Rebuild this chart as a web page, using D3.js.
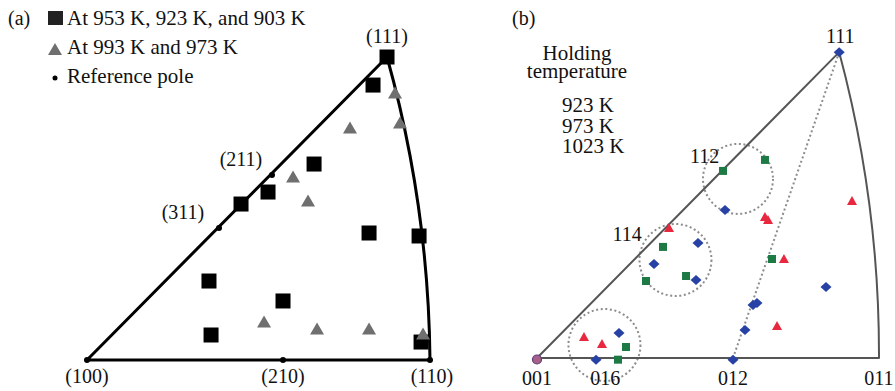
<!DOCTYPE html>
<html><head><meta charset="utf-8">
<script src="https://cdn.jsdelivr.net/npm/d3@7"></script>
<style>
body{margin:0;background:#fff}
svg{display:block}
text{font-family:"Liberation Serif","Times New Roman",serif;fill:#111}
</style>
</head><body>
<svg id="c" width="895" height="391"></svg>
<script>
// ---------- Panel (a) data (stereographic projection coordinates) ----------
const aPoleNames = ["(100)", "(210)", "(110)", "(311)", "(211)", "(111)"];
const aPoleX = [0, 0.2367, 0.4142, 0.1594, 0.2234, 0.3623];
const aPoleY = [0, 0, 0, 0.1594, 0.2234, 0.3660];
const aSquares = [
  [0.3623, 0.3660], [0.3454, 0.3321], [0.2742, 0.2367], [0.2186, 0.2029],
  [0.1860, 0.1884], [0.3406, 0.1534], [0.4010, 0.1498], [0.1473, 0.0954],
  [0.2367, 0.0713], [0.1498, 0.0302], [0.4034, 0.0217]
];
const aTriangles = [
  [0.3720, 0.3225], [0.3780, 0.2862], [0.3176, 0.2802], [0.2488, 0.2210],
  [0.2669, 0.1920], [0.2138, 0.0459], [0.2778, 0.0374], [0.3406, 0.0374],
  [0.4058, 0.0314]
];
const aLegend = ["At 953 K, 923 K, and 903 K", "At 993 K and 973 K", "Reference pole"];

// ---------- Panel (b) data ----------
const bPoleNames = ["001", "016", "012", "011", "114", "112", "111"];
const bPoleX = [0, 0.0828, 0.2374, 0.4142, 0.1213, 0.2247, 0.3660];
const bPoleY = [0, 0, 0, 0, 0.1213, 0.2247, 0.3670];
const bBlue = [
  [0.3660, 0.3670], [0.2277, 0.1777], [0.1950, 0.1381], [0.1417, 0.1128],
  [0.1926, 0.0936], [0.0993, 0.0300], [0.0715, -0.002], [0.2374, -0.002],
  [0.2519, 0.0336], [0.2616, 0.0636], [0.2664, 0.0660], [0.3500, 0.0852]
];
const bGreen = [
  [0.2253, 0.2245], [0.2761, 0.2377], [0.1526, 0.1333], [0.1320, 0.0924],
  [0.1805, 0.0984], [0.1078, 0.0132], [0.0981, -0.002], [0.2846, 0.1188]
];
const bRed = [
  [0.1599, 0.1561], [0.2761, 0.1693], [0.2798, 0.1657], [0.3815, 0.1885],
  [0.2991, 0.1188], [0.2907, 0.0384], [0.0569, 0.0252], [0.0787, 0.0168]
];
const bCircleX = [0.2434, 0.1677, 0.0817];
const bCircleY = [0.2149, 0.1176, 0.0156];
const bCircleR = [0.0424, 0.0436, 0.0436];
const bLegendTitle = ["Holding", "temperature"];
const bLegend = ["923 K", "973 K", "1023 K"];
const ARC_RADIUS = Math.SQRT2; // projected great circle radius

const svg = d3.select("#c");

// ---------- scales ----------
const xa = d3.scaleLinear().domain([0, 0.4142]).range([87, 430]);
const ya = d3.scaleLinear().domain([0, 0.366]).range([360, 57]);
const xb = d3.scaleLinear().domain([0, 0.4142]).range([537, 879]);
const yb = d3.scaleLinear().domain([0, 0.366]).range([358, 53]);

function tri(cx, cy, w, h) {
  return `M${cx},${cy - h * 0.55}L${cx + w / 2},${cy + h * 0.45}L${cx - w / 2},${cy + h * 0.45}Z`;
}
function diamond(cx, cy, w, h) {
  return `M${cx},${cy - h / 2}L${cx + w / 2},${cy}L${cx},${cy + h / 2}L${cx - w / 2},${cy}Z`;
}

// ================= Panel (a) =================
const ga = svg.append("g");
const p100 = [xa(aPoleX[0]), ya(aPoleY[0])];
const p110 = [xa(aPoleX[2]), ya(aPoleY[2])];
const p111 = [xa(aPoleX[5]), ya(aPoleY[5])];
const ra = xa(ARC_RADIUS) - xa(0);
ga.append("path")
  .attr("d", `M${p100[0]},${p100[1]}L${p111[0]},${p111[1]}A${ra},${ra} 0 0 1 ${p110[0]},${p110[1]}Z`)
  .attr("fill", "none").attr("stroke", "#000").attr("stroke-width", 3).attr("stroke-linejoin", "round");

// reference poles
ga.selectAll("circle.pole").data(aPoleNames).join("circle")
  .attr("cx", (d, i) => xa(aPoleX[i])).attr("cy", (d, i) => ya(aPoleY[i]))
  .attr("r", 3).attr("fill", "#000");

// markers
ga.selectAll("rect.sq").data(aSquares).join("rect")
  .attr("x", d => xa(d[0]) - 7.5).attr("y", d => ya(d[1]) - 7.5)
  .attr("width", 15).attr("height", 15).attr("fill", "#000");
ga.selectAll("path.tr").data(aTriangles).join("path")
  .attr("d", d => tri(xa(d[0]), ya(d[1]), 14, 12)).attr("fill", "#6f6f6f");

// pole labels
const aLabOff = {"(100)": [0, 23], "(210)": [0, 23], "(110)": [2, 23], "(311)": [-36, -9], "(211)": [-31, -9], "(111)": [0, -14]};
ga.selectAll("text.pl").data(aPoleNames).join("text")
  .attr("x", (d, i) => xa(aPoleX[i]) + aLabOff[d][0])
  .attr("y", (d, i) => ya(aPoleY[i]) + aLabOff[d][1])
  .attr("text-anchor", "middle").attr("font-size", 20).text(d => d);

// panel label + legend
svg.append("text").attr("x", 8).attr("y", 25).attr("font-size", 20).text("(a)");
svg.append("rect").attr("x", 48).attr("y", 11).attr("width", 15).attr("height", 14).attr("fill", "#222");
svg.append("path").attr("d", tri(55, 49.5, 14, 12)).attr("fill", "#6f6f6f");
svg.append("circle").attr("cx", 55).attr("cy", 78).attr("r", 2.5).attr("fill", "#000");
svg.selectAll("text.lg").data(aLegend).join("text")
  .attr("x", 67).attr("y", (d, i) => 25 + i * 29).attr("font-size", 21).text(d => d);

// ================= Panel (b) =================
const gb = svg.append("g");
const p001 = [xb(bPoleX[0]), yb(bPoleY[0])];
const p011 = [xb(bPoleX[3]), yb(bPoleY[3])];
const p012 = [xb(bPoleX[2]), yb(bPoleY[2])];
const pb111 = [xb(bPoleX[6]), yb(bPoleY[6])];
const rb = xb(ARC_RADIUS) - xb(0);

// dotted circles
gb.selectAll("circle.hl").data(bCircleX).join("circle")
  .attr("cx", (d, i) => xb(d)).attr("cy", (d, i) => yb(bCircleY[i]))
  .attr("r", (d, i) => xb(bCircleR[i]) - xb(0))
  .attr("fill", "none").attr("stroke", "#8c8c8c").attr("stroke-width", 2)
  .attr("stroke-dasharray", "2 2.6");
// dotted line 111-012
gb.append("line").attr("x1", pb111[0]).attr("y1", pb111[1]).attr("x2", p012[0]).attr("y2", p012[1])
  .attr("stroke", "#8c8c8c").attr("stroke-width", 2).attr("stroke-dasharray", "2 2.6");

gb.append("path")
  .attr("d", `M${p001[0]},${p001[1]}L${pb111[0]},${pb111[1]}A${rb},${rb} 0 0 1 ${p011[0]},${p011[1]}Z`)
  .attr("fill", "none").attr("stroke", "#555").attr("stroke-width", 2).attr("stroke-linejoin", "round");

// markers
gb.selectAll("path.bl").data(bBlue).join("path")
  .attr("d", d => diamond(xb(d[0]), yb(d[1]), 11, 10)).attr("fill", "#2742a4");
gb.selectAll("rect.gr").data(bGreen).join("rect")
  .attr("x", d => xb(d[0]) - 4).attr("y", d => yb(d[1]) - 4)
  .attr("width", 8).attr("height", 8).attr("fill", "#1d7a45");
gb.selectAll("path.rd").data(bRed).join("path")
  .attr("d", d => tri(xb(d[0]), yb(d[1]), 10, 9)).attr("fill", "#e8283e");
// 001 marker
gb.append("circle").attr("cx", p001[0]).attr("cy", p001[1] + 1.5).attr("r", 4.5)
  .attr("fill", "#a85f88").attr("stroke", "#5a3f7a").attr("stroke-width", 1.2);

// pole labels
const bLabOff = {"001": [0, 27], "016": [0, 27], "012": [0, 27], "011": [0, 27], "114": [-10, -16], "112": [-18, -8], "111": [1, -9]};
gb.selectAll("text.pl").data(bPoleNames).join("text")
  .attr("x", (d, i) => xb(bPoleX[i]) + bLabOff[d][0])
  .attr("y", (d, i) => yb(bPoleY[i]) + bLabOff[d][1])
  .attr("text-anchor", "middle").attr("font-size", 20).text(d => d);

// panel label + legend
svg.append("text").attr("x", 512).attr("y", 25).attr("font-size", 20).text("(b)");
svg.selectAll("text.lt").data(bLegendTitle).join("text")
  .attr("x", 577).attr("y", (d, i) => 60 + i * 18).attr("text-anchor", "middle")
  .attr("font-size", 21).text(d => d);
svg.selectAll("text.lb").data(bLegend).join("text")
  .attr("x", 562).attr("y", (d, i) => 112 + i * 20.5).attr("font-size", 21).text(d => d);
</script>
</body></html>
